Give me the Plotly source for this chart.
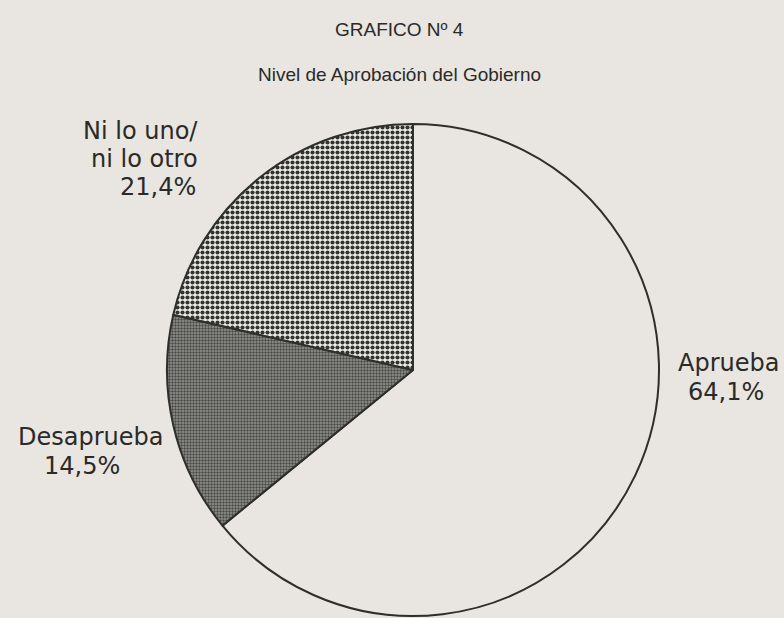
import plotly.graph_objects as go

categories = ["Aprueba", "Desaprueba", "Ni lo uno/ni lo otro"]
values = [64.1, 14.5, 21.4]
value_labels = ["64,1%", "14,5%", "21,4%"]
title_lines = ["GRAFICO Nº 4", "Nivel de Aprobación del Gobierno"]

W, H = 784, 618
BG = "#e9e5e0"

# pie geometry in pixels
cx, cy, r = 413, 370, 246

def px(x):
    return x / W

def py(y):
    return 1 - y / H

fig = go.Figure()
fig.add_trace(go.Pie(
    labels=categories,
    values=values,
    sort=False,
    direction="clockwise",
    rotation=0,
    textinfo="none",
    hoverinfo="label+percent",
    showlegend=False,
    domain=dict(x=[px(cx - r), px(cx + r)], y=[py(cy + r), py(cy - r)]),
    marker=dict(
        colors=["rgba(0,0,0,0)", "#7a7a76", "#d8d8d4"],
        line=dict(color="#2e2e2a", width=2),
        pattern=dict(
            shape=["", ".", "."],
            fgcolor=["#2e2e2a", "#4a4a46", "#333330"],
            bgcolor=["rgba(0,0,0,0)", "#959591", "#eeeeea"],
            size=[8, 3, 5],
            solidity=[0.3, 0.5, 0.55],
            fillmode="replace",
        ),
    ),
))

TFONT = "Liberation Sans, Arial, sans-serif"
LFONT = "DejaVu Sans, Liberation Sans, sans-serif"
TXT = "#2a2a28"

ann = []
ann.append(dict(text=title_lines[0], x=px(399), y=py(30), font=dict(family=TFONT, size=19, color=TXT)))
ann.append(dict(text=title_lines[1], x=px(399), y=py(75), font=dict(family=TFONT, size=19, color=TXT)))

# slice labels, one line each
lab = [
    ("Ni lo uno/", 200, 131, "right"),
    ("ni lo otro", 200, 159, "right"),
    (value_labels[2], 198, 187, "right"),
    (categories[1], 90, 437, "center"),
    (value_labels[1], 82, 466, "center"),
    (categories[0], 728, 363, "center"),
    (value_labels[0], 726, 392, "center"),
]
for t, x, y, xa in lab:
    ann.append(dict(text=t, x=px(x), y=py(y), xanchor=xa,
                    font=dict(family=LFONT, size=24, color=TXT)))

for a in ann:
    a.setdefault("xanchor", "center")
    a.update(xref="paper", yref="paper", yanchor="middle", showarrow=False)

fig.update_layout(
    width=W, height=H,
    margin=dict(l=0, r=0, t=0, b=0),
    paper_bgcolor=BG, plot_bgcolor=BG,
    annotations=ann,
)

fig.write_html(
    "out.html",
    config={"displayModeBar": False},
    post_script="document.body.style.margin='0';document.body.style.background='%s';" % BG,
)
